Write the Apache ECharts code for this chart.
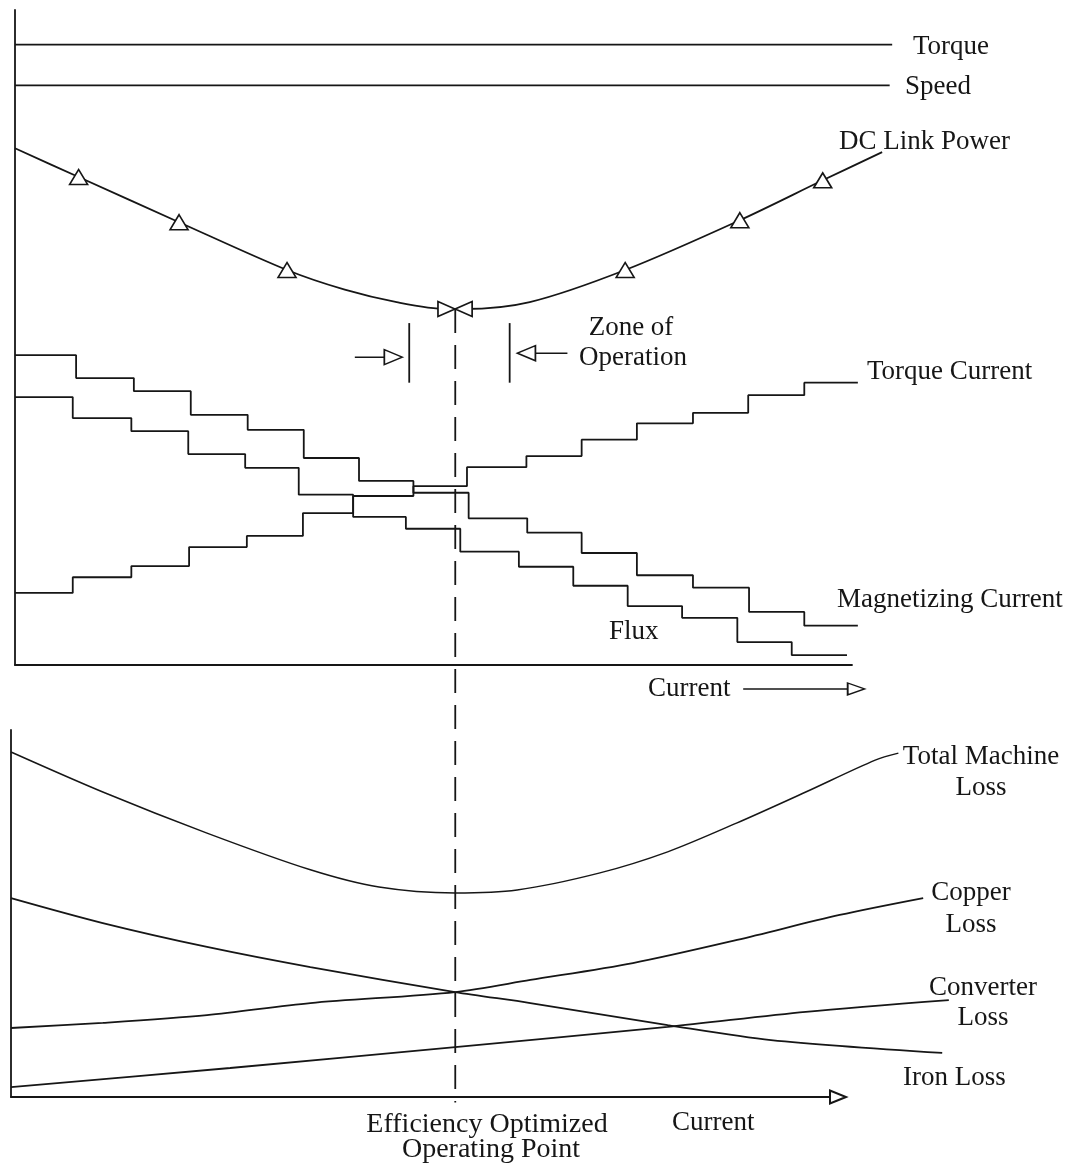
<!DOCTYPE html>
<html>
<head>
<meta charset="utf-8">
<script src="https://cdn.jsdelivr.net/npm/echarts@6/dist/echarts.min.js"></script>
<style>
html,body{margin:0;padding:0;background:#ffffff;}
#chart{width:1073px;height:1165px;}
</style>
</head>
<body>
<div id="chart"></div>
<script>
// ---------- DATA (x = current, 0-100 relative; y = relative magnitude 0-100) ----------
// Top panel
const torqueLevel = 94.7;
const speedLevel = 88.5;
const torqueLineEnd = 104.8;
const speedLineEnd = 104.5;

const dcX = [0, 7.6, 19.6, 32.5, 39.4, 45.6, 51.55, 53.6, 61.5, 72.9, 86.6, 96.5, 103.6];
const dcY = [78.9, 74.5, 67.6, 60.3, 57.3, 55.4, 54.35, 54.35, 55.4, 60.3, 67.9, 74.0, 78.3];
const dcUpMarkers = [1, 2, 3, 9, 10, 11];
const dcRightMarker = 6;
const dcLeftMarker = 7;

const magX = [0, 7.3, 14.2, 21.0, 27.8, 34.5, 41.1, 47.6, 54.2, 61.2, 67.7, 74.3, 81.0, 87.7, 94.3, 100.7];
const magY = [47.3, 43.8, 41.8, 38.2, 35.9, 31.6, 28.1, 26.3, 22.4, 20.2, 17.1, 13.7, 11.8, 8.1, 6.0, 6.0];

const fluxX = [0, 6.9, 13.9, 20.7, 27.5, 33.9, 40.4, 46.7, 53.2, 60.2, 66.7, 73.2, 79.7, 86.3, 92.8, 99.4];
const fluxY = [40.9, 37.7, 35.7, 32.2, 30.1, 26.0, 22.6, 20.8, 17.3, 15.0, 12.1, 9.0, 7.2, 3.5, 1.5, 1.5];

const tqCurX = [0, 6.9, 13.9, 20.8, 27.7, 34.4, 40.4, 47.6, 54.0, 61.1, 67.7, 74.3, 81.0, 87.6, 94.3, 100.7];
const tqCurY = [11.0, 13.4, 15.1, 18.0, 19.7, 23.2, 25.8, 27.3, 30.2, 31.9, 34.4, 36.9, 38.5, 41.2, 43.1, 43.1];

const optimumX = 52.6;          // efficiency optimized operating point (top scale)
const optimumLineY = [54.35, -66.8];
const zoneX = [47.1, 59.1];
const zoneY = [52.2, 43.1];
const zoneArrowLeft = [[40.6, 47.0], [45.2, 47.0]];
const zoneArrowRight = [[66.0, 47.6], [61.1, 47.6]];
const currentArrow = [[87.0, -3.66], [100.5, -3.66]];

// Bottom panel
const totalX = [0, 11.1, 23.7, 36.2, 44.5, 53.7, 61.2, 71.1, 79.4, 87.8, 96.1, 104.5, 107.3];
const totalY = [94.0, 83.1, 71.9, 61.9, 57.2, 55.6, 56.4, 61.0, 66.8, 74.7, 83.1, 91.8, 93.7];
const copperX = [0, 11.1, 23.7, 36.2, 53.7, 62.8, 75.2, 87.8, 100.2, 110.3];
const copperY = [18.8, 20.2, 22.3, 25.6, 28.6, 31.9, 36.5, 42.8, 49.6, 54.2];
const ironX = [0, 11.1, 23.7, 36.2, 53.7, 62.8, 79.4, 91.9, 112.6];
const ironY = [54.2, 47.4, 40.9, 35.4, 28.6, 25.6, 19.6, 15.5, 12.0];
const convX = [0, 26.5, 53.7, 79.4, 96.1, 113.4];
const convY = [2.7, 7.9, 13.6, 19.1, 23.2, 26.4];

// ---------- BUILD ----------
const INK = '#161616';
const FONT = '27px "Liberation Serif", "Times New Roman", serif';
const FONT_BIG = '28px "Liberation Serif", "Times New Roman", serif';
const LW = 1.8;

// visible axis frames (x: 0-100) and wider drawing frames with identical scale (x: 0-120)
const TOP = { left: 15, top: 10, width: 837, height: 655 };
const BOT = { left: 11, top: 730, width: 827, height: 367 };
const WIDE_MAX = 120;

function pts(xs, ys) { return xs.map((x, i) => [x, ys[i]]); }

function lineSeries(name, data, grid, extra) {
  const g = grid === 0 ? 2 : 3;
  return Object.assign({
    type: 'line', name: name, xAxisIndex: g, yAxisIndex: g,
    data: data, symbol: 'none', showSymbol: false, clip: false,
    silent: true, animation: false,
    lineStyle: { color: INK, width: LW }
  }, extra || {});
}

const markerStyle = { color: '#ffffff', borderColor: INK, borderWidth: 1.6 };

const dcData = dcX.map((x, i) => {
  const item = { value: [x, dcY[i]], symbol: 'none' };
  if (dcUpMarkers.indexOf(i) >= 0) {
    item.symbol = 'triangle'; item.symbolSize = [18, 15]; item.symbolRotate = 0;
  } else if (i === dcRightMarker) {
    item.symbol = 'triangle'; item.symbolSize = [15, 17]; item.symbolRotate = -90;
  } else if (i === dcLeftMarker) {
    item.symbol = 'triangle'; item.symbolSize = [15, 17]; item.symbolRotate = 90;
  }
  return item;
});

function arrowData(p, rotate, size) {
  return [
    { value: p[0], symbol: 'none' },
    { value: p[1], symbol: 'triangle', symbolRotate: rotate, symbolSize: size }
  ];
}

const series = [
  lineSeries('Torque', [[0, torqueLevel], [torqueLineEnd, torqueLevel]], 0),
  lineSeries('Speed', [[0, speedLevel], [speedLineEnd, speedLevel]], 0),
  lineSeries('DC Link Power', dcData, 0, {
    smooth: 0.3, showSymbol: true, symbol: 'none', itemStyle: markerStyle, z: 3
  }),
  lineSeries('Magnetizing Current', pts(magX, magY), 0, { step: 'end' }),
  lineSeries('Flux', pts(fluxX, fluxY), 0, { step: 'end' }),
  lineSeries('Torque Current', pts(tqCurX, tqCurY), 0, { step: 'end' }),
  lineSeries('Optimum', [[optimumX, optimumLineY[0]], [optimumX, optimumLineY[1]]], 0, {
    lineStyle: { color: INK, width: LW, type: [24, 12] }, z: 1
  }),
  lineSeries('Zone left', [[zoneX[0], zoneY[0]], [zoneX[0], zoneY[1]]], 0),
  lineSeries('Zone right', [[zoneX[1], zoneY[0]], [zoneX[1], zoneY[1]]], 0),
  lineSeries('Zone arrow L', arrowData(zoneArrowLeft, -90, [15, 18]), 0, { showSymbol: true, itemStyle: markerStyle, lineStyle: { color: INK, width: 1.5 } }),
  lineSeries('Zone arrow R', arrowData(zoneArrowRight, 90, [15, 18]), 0, { showSymbol: true, itemStyle: markerStyle, lineStyle: { color: INK, width: 1.5 } }),
  lineSeries('Current arrow', arrowData(currentArrow, -90, [12, 17]), 0, { showSymbol: true, itemStyle: markerStyle, lineStyle: { color: INK, width: 1.5 } }),

  lineSeries('Total Machine Loss', pts(totalX, totalY), 1, { smooth: 0.3, lineStyle: { color: INK, width: 1.5 } }),
  lineSeries('Copper Loss', pts(copperX, copperY), 1, { smooth: 0.3 }),
  lineSeries('Iron Loss', pts(ironX, ironY), 1, { smooth: 0.3 }),
  lineSeries('Converter Loss', pts(convX, convY), 1, { smooth: 0.3 })
];

function T(text, x, y, align, font) {
  const a = align || 'left';
  return {
    type: 'text', x: x, y: y, silent: true,
    style: { text: text, font: font || FONT, fill: INK, align: a, verticalAlign: 'middle', textAlign: a, textVerticalAlign: 'middle' }
  };
}

const axisHidden = { axisTick: { show: false }, axisLabel: { show: false }, splitLine: { show: false } };
const visLine = { show: true, onZero: false, lineStyle: { color: INK, width: LW } };
const noLine = { show: false };

function axis(grid, max, line) {
  return Object.assign({ type: 'value', gridIndex: grid, min: 0, max: max, axisLine: line }, axisHidden);
}

const option = {
  backgroundColor: '#ffffff',
  animation: false,
  grid: [
    TOP,
    BOT,
    { left: TOP.left, top: TOP.top, width: TOP.width * WIDE_MAX / 100, height: TOP.height },
    { left: BOT.left, top: BOT.top, width: BOT.width * WIDE_MAX / 100, height: BOT.height }
  ],
  xAxis: [
    axis(0, 100, visLine),
    axis(1, 100, { show: true, onZero: false, symbol: ['none', 'emptyTriangle'], symbolSize: [13, 16],
      lineStyle: { color: INK, width: LW } }),
    axis(2, WIDE_MAX, noLine),
    axis(3, WIDE_MAX, noLine)
  ],
  yAxis: [
    axis(0, 100, visLine),
    axis(1, 100, visLine),
    axis(2, 100, noLine),
    axis(3, 100, noLine)
  ],
  series: series,
  graphic: { elements: [
    T('Torque', 913, 47),
    T('Speed', 905, 87),
    T('DC Link Power', 839, 142),
    T('Zone of', 631, 328, 'center'),
    T('Operation', 633, 358, 'center'),
    T('Torque Current', 867, 372),
    T('Magnetizing Current', 837, 600),
    T('Flux', 609, 632),
    T('Current', 648, 689),
    T('Total Machine', 981, 757, 'center'),
    T('Loss', 981, 788, 'center'),
    T('Copper', 971, 893, 'center'),
    T('Loss', 971, 925, 'center'),
    T('Converter', 983, 988, 'center'),
    T('Loss', 983, 1018, 'center'),
    T('Iron Loss', 903, 1078),
    T('Efficiency Optimized', 487, 1125, 'center', FONT_BIG),
    T('Operating Point', 491, 1150, 'center', FONT_BIG),
    T('Current', 672, 1123)
  ] }
};

const chart = echarts.init(document.getElementById('chart'), null, { renderer: 'canvas' });
chart.setOption(option);
</script>
</body>
</html>
